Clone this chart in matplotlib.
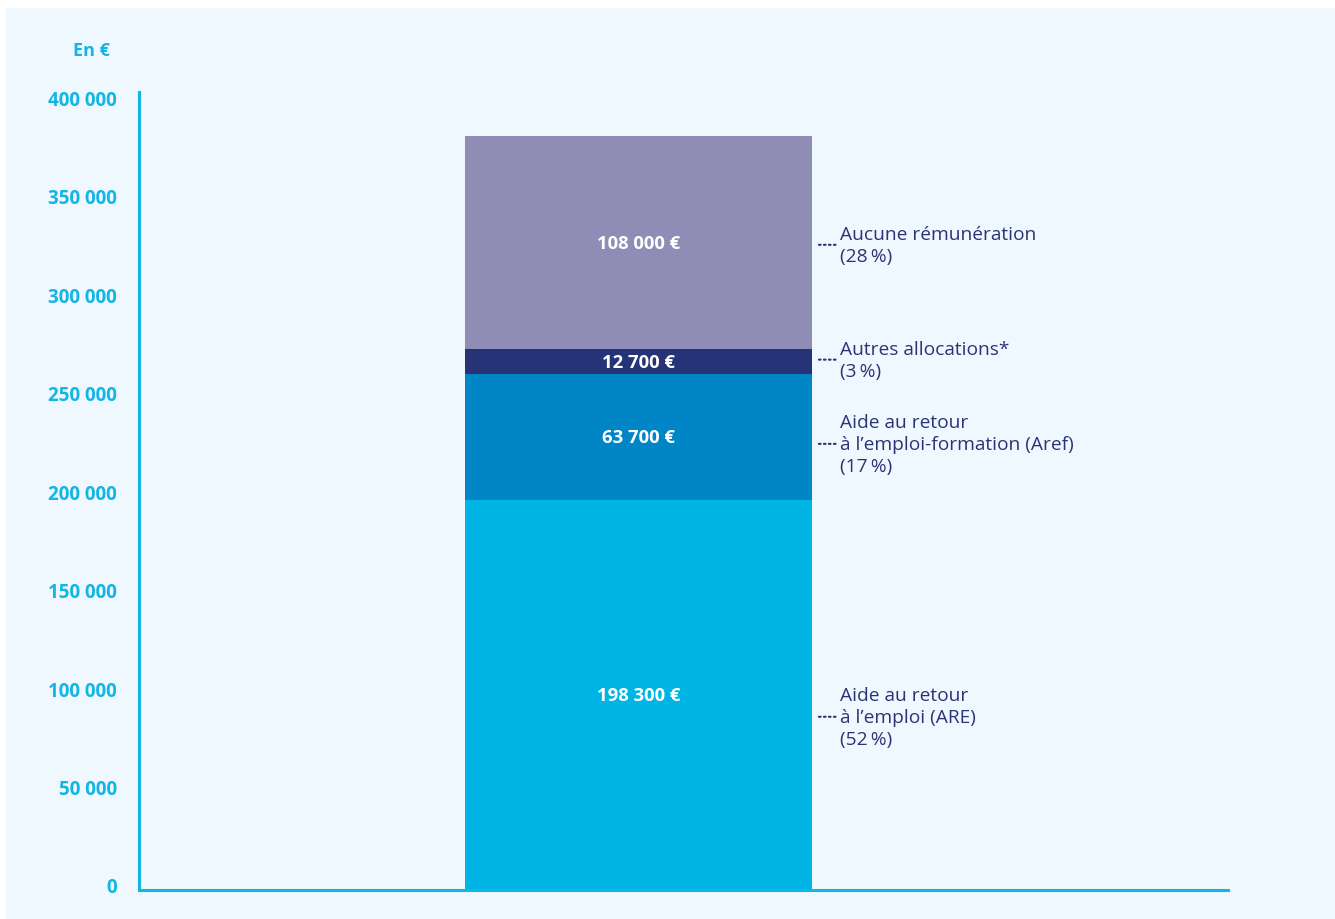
import matplotlib.pyplot as plt
import matplotlib.transforms as mtransforms

plt.rcParams['font.family'] = ['Open Sans', 'DejaVu Sans']

# data
segments = ["Aide au retour\nà l\u2019emploi (ARE)",
            "Aide au retour\nà l\u2019emploi-formation (Aref)",
            "Autres allocations*",
            "Aucune rémunération"]
values = [198300, 63700, 12700, 108000]
shares = [52, 17, 3, 28]
yticks = [0, 50000, 100000, 150000, 200000, 250000, 300000, 350000, 400000]

colors = ["#00b4e6", "#0085c7", "#263477", "#8f8db5"]
label_shift = [-22, -7, 2, -2]   # px, nudge of side labels
navy = "#2b3475"
cyan = "#12b5e4"
bg = "#eff8fe"


def fmt(v):
    return f"{v:,}".replace(",", " ")


fig = plt.figure(figsize=(13.35, 9.2), dpi=100)
fig.patches.append(plt.Rectangle((6 / 1335, 0), 1, 1 - 9 / 920,
                                 transform=fig.transFigure, color=bg, zorder=-5))
ax = fig.add_axes([139 / 1335, 29 / 920, 1089 / 1335, 798 / 920])
ax.set_facecolor("none")

bottom = 0
for v, s, c, lab, sh in zip(values, shares, colors, segments, label_shift):
    ax.bar(0, v, bottom=bottom, width=1, color=c, zorder=2)
    mid = bottom + v / 2
    ax.text(0, mid, fmt(v) + " €", color="white", fontsize=13.3,
            fontweight="bold", ha="center", va="center", zorder=3)
    off = mtransforms.offset_copy(ax.transData, fig=fig, x=0, y=sh * 0.72, units="points")
    ax.annotate(lab + f"\n({s}\u2009%)", xy=(0.515, mid), xytext=(0.58, mid),
                textcoords=off, xycoords=off,
                fontsize=13.8, color=navy, ha="left", va="center", linespacing=1.27,
                fontweight="medium",
                arrowprops=dict(arrowstyle="-", color=navy, linestyle=(0, (0.8, 1.6)),
                                lw=1.5, shrinkA=1, shrinkB=0))
    bottom += v

ax.set_xlim(-1.4395, 1.699)
ax.set_ylim(0, 405300)
ax.set_xticks([])
ax.set_yticks(yticks)
ax.set_yticklabels([fmt(t) for t in yticks], fontsize=13.5, fontweight="bold", color=cyan)
ax.tick_params(axis="y", length=0, pad=16)
lift = mtransforms.ScaledTranslation(0, 5 / 100, fig.dpi_scale_trans)
for t in ax.get_yticklabels():
    t.set_transform(t.get_transform() + lift)

for side in ["top", "right"]:
    ax.spines[side].set_visible(False)
for side in ["left", "bottom"]:
    ax.spines[side].set_color(cyan)
    ax.spines[side].set_linewidth(2.2)

fig.text(110 / 1335, 1 - 51 / 920, "En €", fontsize=13, fontweight="bold",
         color=cyan, ha="right", va="center")

fig.savefig("out.png", dpi=100, facecolor="white")
